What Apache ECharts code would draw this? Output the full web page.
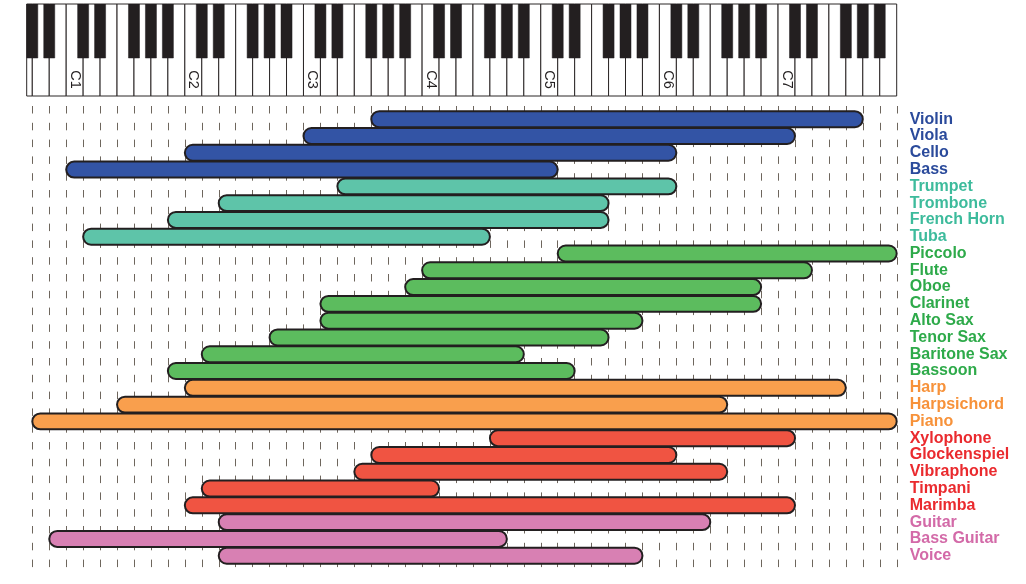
<!DOCTYPE html>
<html>
<head>
<meta charset="utf-8">
<script src="https://cdn.jsdelivr.net/npm/echarts@6/dist/echarts.min.js"></script>
<style>
html,body{margin:0;padding:0;background:#fff;}
#chart{width:1026px;height:584px;}
</style>
</head>
<body>
<div id="chart"></div>
<script>
// ---- Data ----
const instruments = ['Violin','Viola','Cello','Bass','Trumpet','Trombone','French Horn','Tuba',
  'Piccolo','Flute','Oboe','Clarinet','Alto Sax','Tenor Sax','Baritone Sax','Bassoon',
  'Harp','Harpsichord','Piano','Xylophone','Glockenspiel','Vibraphone','Timpani','Marimba',
  'Guitar','Bass Guitar','Voice'];
const lowNotes  = ['G3','C3','C2','C1','E3','E2','B1','D1',
  'D5','C4','B3','D3','D3','A2','D2','B1',
  'C2','F1','A0','G4','G3','F3','D2','C2',
  'E2','B0','E2'];
const highNotes = ['G7','C7','C6','C5','C6','F5','F5','F4',
  'B7','D7','A6','A6','A5','F5','A4','D5',
  'F7','F6','B7','C7','C6','F6','C4','C7',
  'E6','G4','A5'];
const families = ['strings','strings','strings','strings','brass','brass','brass','brass',
  'wood','wood','wood','wood','wood','wood','wood','wood',
  'keys','keys','keys','perc','perc','perc','perc','perc',
  'other','other','other'];
const octaveLabels = ['C1','C2','C3','C4','C5','C6','C7'];
const keyboardLow = 'A0', keyboardHigh = 'B7';

// ---- Styles ----
const fillColors = {strings:'#3354a5', brass:'#5ec4a9', wood:'#5cbc5e', keys:'#f99f4d', perc:'#f05442', other:'#d880b3'};
const labelColors = {strings:'#2a4a9b', brass:'#3dbb9c', wood:'#2eaa4a', keys:'#f7923a', perc:'#ea2a2e', other:'#d36aa8'};

// white-key index (A0 = 0)
function noteIndex(n){ return parseInt(n.slice(1),10)*7 + 'CDEFGAB'.indexOf(n[0]) - 5; }

const xMin = -0.33, xMax = noteIndex(keyboardHigh) + 1;

// keyboard structure
const whiteKeys = [[xMin, 0]];
for (let i = noteIndex(keyboardLow); i < xMax; i++) whiteKeys.push([i, i+1]);
const blackKeys = [0]; // G#0 at the left edge
for (let i = noteIndex(keyboardLow); i < xMax - 1; i++) {
  const L = 'CDEFGAB'[(i+5)%7];
  if ('CDFGA'.indexOf(L) >= 0) blackKeys.push(i+1);
}
const labelData = octaveLabels.map(n => [noteIndex(n) + 0.5, n]);

const barData = instruments.map((name, i) => [noteIndex(lowNotes[i]), noteIndex(highNotes[i]) + 1, i]);

const chart = echarts.init(document.getElementById('chart'), null, {renderer:'canvas'});
const FONT = '"Liberation Sans", Arial, Helvetica, sans-serif';

chart.setOption({
  animation: false,
  backgroundColor: '#fff',
  grid: [
    {left: 26.7, width: 870, top: 4, height: 92},
    {left: 32.3, width: 864.45, top: 106, height: 469},
    {left: 26.7, width: 870, top: 110.8, height: 453.3}
  ],
  xAxis: [
    {gridIndex:0, type:'value', min:xMin, max:xMax, show:false},
    {gridIndex:1, type:'value', min:0, max:xMax, interval:1,
      axisLine:{show:false}, axisTick:{show:false}, axisLabel:{show:false},
      splitLine:{show:true, lineStyle:{color:'#6e665d', width:1, type:[7.5, 9.3]}}},
    {gridIndex:2, type:'value', min:xMin, max:xMax, show:false}
  ],
  yAxis: [
    {gridIndex:0, type:'value', min:0, max:1, inverse:true, show:false},
    {gridIndex:1, type:'value', min:0, max:1, show:false, splitLine:{show:false}},
    {gridIndex:2, type:'category', inverse:true, position:'right',
      data: instruments.map((n,i) => ({value:n, textStyle:{color:labelColors[families[i]]}})),
      axisLine:{show:false}, axisTick:{show:false}, splitLine:{show:false},
      axisLabel:{margin:13, fontFamily:FONT, fontWeight:'bold', fontSize:16, interval:0}}
  ],
  series: [
    {type:'custom', xAxisIndex:0, yAxisIndex:0, data: whiteKeys, silent:true,
      renderItem: function(params, api){
        const p1 = api.coord([api.value(0), 0]);
        const p2 = api.coord([api.value(1), 1]);
        return {type:'rect', shape:{x:p1[0], y:p1[1], width:p2[0]-p1[0], height:p2[1]-p1[1]},
          style:{fill:'#ffffff', stroke:'#2b2626', lineWidth:1}};
      }},
    {type:'custom', xAxisIndex:0, yAxisIndex:0, data: blackKeys, silent:true,
      clip:true,
      renderItem: function(params, api){
        const c = api.value(0);
        const p1 = api.coord([Math.max(c - 0.325, xMin), 0]);
        const p2 = api.coord([c + 0.325, 0.587]);
        return {type:'rect', shape:{x:p1[0], y:p1[1], width:p2[0]-p1[0], height:p2[1]-p1[1]},
          style:{fill:'#231f20', stroke:'#231f20', lineWidth:0.5}};
      }},
    {type:'custom', xAxisIndex:0, yAxisIndex:0, data: labelData, silent:true,
      renderItem: function(params, api){
        const p = api.coord([api.value(0), 0.82]);
        return {type:'text', x:p[0], y:p[1], rotation:-Math.PI/2,
          style:{text: labelData[params.dataIndex][1], fill:'#231f20', font:'14.5px ' + FONT,
            align:'center', verticalAlign:'middle'}};
      }},
    {type:'custom', xAxisIndex:1, yAxisIndex:1, data: [], renderItem: function(){ return null; }},
    {type:'custom', xAxisIndex:2, yAxisIndex:2, data: barData, silent:true,
      encode:{x:[0,1], y:2},
      renderItem: function(params, api){
        const row = api.value(2);
        const p1 = api.coord([api.value(0), row]);
        const p2 = api.coord([api.value(1), row]);
        const h = api.size([0,1])[1] * 0.95;
        return {type:'rect', shape:{x:p1[0], y:p1[1]-h/2, width:p2[0]-p1[0], height:h, r:h/2},
          style:{fill:fillColors[families[params.dataIndex]], stroke:'#231f20', lineWidth:2}};
      }}
  ]
});
</script>
</body>
</html>
